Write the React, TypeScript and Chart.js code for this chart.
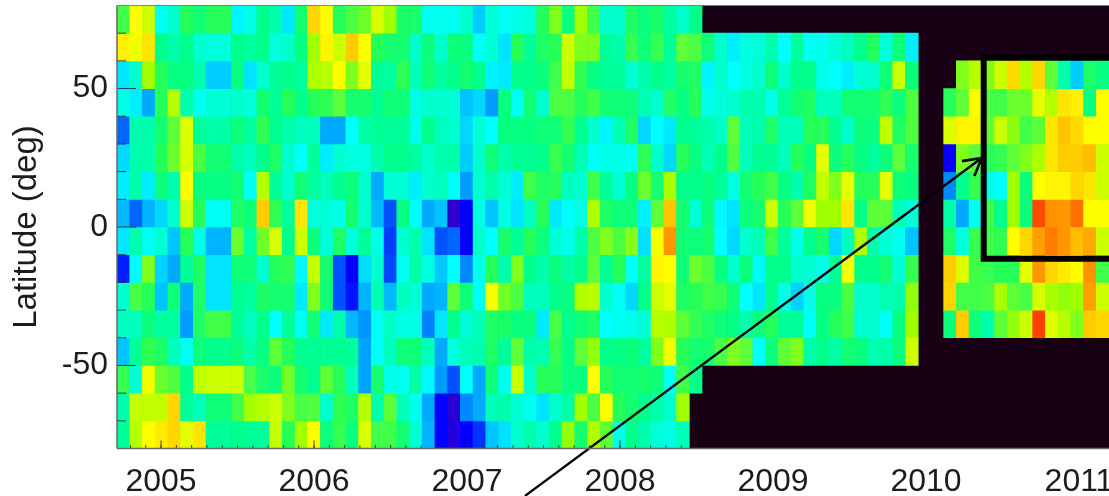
import React, { useEffect, useRef } from "react";
import { Chart, registerables } from "chart.js";

Chart.register(...registerables);

const gap = (n: number) => Array(n).fill(null);

const lat70 = [8.5,12,11,5.3,6,8,7.5,8,8,4.7,5.5,7,6.5,4.3,7.5,12.8,12,8,8.7,9.3,11.3,10,7.7,7.7,5.3, 5.3,5.3,6,3.7,5.8,5.2,5.4,5.7,8,9.5,7.2,10,8.5,6,6,7.8,7.3,7.7,6.7,6,7, ...gap(32)];
const lat60 = [12.3,11.7,12.5,7,6.5,7,6,5.7,5.7,7,6.7,7,5.7,6,7.2,10,12.2,11,13,12,8,7.6,7.6,6,7.3, 6,7.4,7.2,5.2,5.8,4.2,8,6.8,7.8,8,11,9.5,9.5,6.8,6.5,8.3,7.4,8.3,6.8,9,8.7,7.4,6,4.5,5.6,5.8,6.5, 5,6.7,5.3,5.3,5.8,6.2,7,8,5.7,7.4,4.5, ...gap(15)];
const lat50 = [4.2,6,10,8,7.2,7.2,6.5,3.7,3.7,7.2,4.2,6,6.8,7,6.7,10.3,10.5,12,9.5,11.5,6.8,6.7,8.2,6.3,7.4, 6.7,7,7.5,7,4.6,4.4,7,7,7.3,8.5,10.8,8.2,7.2,6.8,6.8,5.9,6.5,7,6.7,7.6,7.8,4.7,6,5,5.6,6, 7.4,6,7,7,5.5,5,4.5,5.8,6,7.4,11,7.4, ...gap(3), 9.5,10.5,9.5,11,12.7,10.5,12.8,9,6.5,3.7,7.8,7.2];
const lat40 = [5.5,4.5,3,8,10.5,6.5,5.3,5.8,5.8,6,5.7,7.5,6.8,8,7,8,8.2,9,7.6,7.6,6.9,7.4,7.4,5.6,6, 6,5.8,3.5,3.9,2.8,7.2,5.2,7.5,6,8.7,8.7,8,8.5,7.5,7.4,7.4,6.4,6,7.8,7.2,8,5.4,5.8,5.9,6.5,6.5, 5.5,6.8,7.5,7.8,6.2,6.2,7.5,7.5,7.5,8.2,7.3,8.7, ...gap(2), 8,9,12,8.7,8.5,9.2,9.2,11.5,10.5,12.5,12.3,7.2,12];
const lat30 = [2,6.5,6.5,7.5,9,11.3,6.8,6.6,6.6,7.4,6.7,8.2,7,6.5,6.2,6.2,3,3,5,6.6,6.8,6.8,6.8,5.4,7, 6.2,6,3.9,5.8,5,7.2,7.2,7.2,7.4,7.4,8.3,6.9,6,4.7,6.4,7.8,3.9,5,4.4,7,6.8,6.5,6.1,9,6.3,6.5, 7.8,6.3,6.3,8,8,6.9,6,7.3,7.2,10.7,7.8,8.8, ...gap(2), 11.3,12.2,12.2,9,11,9.7,8.5,9,12.5,13.2,12.7,12,12];
const lat20 = [3.9,6.5,6.5,8,9.2,11.2,8.7,7.5,7.5,6.5,6.2,7,7.8,6,5,6.8,4.5,6,5.6,5.6,6.5,7,7,6.7,6, 6.5,6.5,3.7,6,7.4,6.5,6.8,6.9,7,8.4,7.5,6.4,5.2,5.4,5.5,5.2,8.2,6,3.9,8,7.2,6.4,7,8.8,6.3,6.9, 6.8,6.3,8,7.2,11.5,7.3,8,7.2,6.7,7.3,9,7.6, ...gap(2), 0.9,9.5,9,8,8.3,9,9.5,10.3,12.5,13,13,13.3,11];
const lat10 = [4.5,6.5,4.5,7.3,6.5,12,7.2,7.2,7.2,7.5,5.2,10.5,6.8,6,7.5,6.7,6.3,6.9,7.4,6,3,5.8,5.8,4.5,6, 6.2,5.2,2.8,6,6.5,5.8,4.5,8.5,7.8,8,6.2,5.9,8.5,6.8,5.9,7.2,9.2,7.6,10.2,7,7,7.2,6.8,5.6,7.5,8, 8.5,7.2,6.5,7.8,10.7,9.5,11.5,8,8,11.5,7.4,7.2, ...gap(2), 2.5,7,8.3,5.5,5,10,7.3,12,12.2,12.2,12.8,12.5,11];
const lat0 = [3.3,2,3.2,3.9,6,11,8,5.2,5.2,7.8,7.4,13,8.2,6.8,12.5,5.7,5.8,5.5,7.5,6,3.3,1.8,7.2,5,3, 3.5,0.3,1,5.6,3.5,5.5,4.2,6.2,8,4.4,5.1,5.6,10.3,7.8,7.4,7.4,4.6,9,13.2,7.5,5.8,7.3,4.8,4.2,7.3,7.6, 11,8,9,11.6,10,10,12.5,7.1,9,9,6.3,5.8, ...gap(2), 6.6,3,5.3,8.5,7,10,7.3,15.8,14.3,14.2,15,12,12];
const latM10 = [4.3,6.5,5.3,5.9,3.5,8,5.5,3.2,3.2,9.2,6.7,9.3,11.2,7,11,7.3,5.8,7.8,5.7,6.8,5.5,1.6,5.9,6.5,4.2, 1.8,2,1,6,5,7.6,6.8,8,7.3,5.8,5.4,6.5,8.7,9.5,8.7,9.6,4.1,11.8,14.2,7.5,7.3,7.6,5,3.9,6,6.3, 8.5,6.8,5.5,7,7.6,3.9,6.2,10.3,6.5,5.8,5.3,3.5, ...gap(2), 7.8,5.7,8.3,8.5,8.2,12,12.8,14,14.7,14.2,13.3,13.8,11];
const latM20 = [1.3,4.9,9.5,3.8,3,6.8,7.8,4.2,4.2,7.4,7.4,6,8,8.2,4.8,10.8,7.6,1.8,1,4,6,1.7,5.3,6.6,5.6, 3.6,5,2.5,5.4,8,6.5,9.5,7,6.5,7.3,6.6,7,9,6.8,8,5.2,6.7,12.2,12,7.4,9.2,8.7,7.2,6,7.3,4.8, 7,7,6,5.9,5.5,6.8,11.8,7,7,7.5,5.8,8.3, ...gap(2), 13,11.3,8.5,8.3,8,8,11.5,14.2,12.8,12.4,12,14.3,8.5];
const latM30 = [5.9,8.6,8,3.5,7.4,3,7.8,4.2,4.2,6.9,6.7,7.8,7.6,7.6,4.4,9.5,7.4,1.8,1.2,3.2,6.4,3.3,6.2,5.8,3, 3.2,9,7.4,5.2,11.8,9.3,8.7,6.2,6.2,7,7.2,10.3,10.6,5.9,5.2,3.9,7,11,11.5,7.8,8,8.5,8.3,7.4,5,4.3, 7,5.5,3.8,5.5,7.2,7.2,8.7,6,6,6.4,6.5,9.8, ...gap(2), 12.8,8.5,8.5,8.7,10.2,9,8.6,11.2,10.2,9.8,10,14,11];
const latM40 = [6.2,6.2,7.3,6.7,6.7,2.8,7.8,8.5,8.5,6.8,6.2,7,5,6.8,5.3,7.5,4.4,6.5,3.3,2.7,5.3,6.1,5.5,5.5,2.4, 4.3,7,5.8,6.3,7.8,7.7,7.2,7.3,4.4,8.6,7,7.4,7.8,5,5.3,5.4,5.8,10.5,10.3,9,8.3,7.8,7.4,7.1,6.5,7.3, 8,6.8,6.8,5.2,7.2,8,8.5,5.8,6,5.2,7.2,10, ...gap(2), 7.3,13,7.4,6.5,9,9.8,11,16,11.3,10.5,9.5,13,12.8];
const latM50 = [3.5,6.8,8.2,7.8,6.2,5.3,7.4,7,7,7.3,6.6,7.2,9,8,6.9,6.9,6.9,6.9,6.8,2.9,5.2,6.2,7.4,7.4,6.3, 3,5.7,6.3,6.5,7.8,6.8,9,6.5,6.4,8.3,7.1,9,9.8,7,7.1,7.3,6.7,9.5,11.7,8,7.5,7.6,8.6,9.5,9,5, 7.3,9,9.5,6.6,7,6.6,7.5,7.3,6.4,6.5,7.3,11, ...gap(15)];
const latM60 = [8.3,5.8,11.7,9.2,8.8,7,10.7,11,11,11,8.6,7.7,7.3,9.3,7.5,7,9,8,6.3,2.9,7.6,5.5,5.3,6.6,4.8, 2.8,1.8,5,3,7.4,5.3,11,6,8,8,7.2,7.2,12,8,7.5,7.5,7.6,7.4,5.2,8.5,7, ...gap(32)];
const latM70 = [6.5,10.8,10.8,10.8,12.8,6.8,6.3,7.4,7.4,8.5,10,10.5,11,9.5,8.6,8.8,6,8.2,7.8,10.5,6.5,9,6.3,5.3,3, 1,0.4,2.5,3,6.3,6.5,5.8,5.3,4.2,6,6.6,10,8.7,11.9,8,7.5,7,6.5,6,10, ...gap(33)];
const latM80 = [6.8,10.5,12,12.4,12.8,11.5,12.5,6.8,6.8,7,6.8,6.8,10.8,8,10,12,7.3,8.3,7.3,11.3,8.5,8.5,7.5,5.8,3.2, 1,0.5,1,1.5,3.5,4.1,6,6.5,6,7,9.8,7.6,10.3,9,5.5,7,6.5,5.8,5.5,6.3, ...gap(33)];

const rows: [number, (number | null)[]][] = [
  [70, lat70], [60, lat60], [50, lat50], [40, lat40], [30, lat30], [20, lat20], [10, lat10], [0, lat0],
  [-10, latM10], [-20, latM20], [-30, latM30], [-40, latM40], [-50, latM50], [-60, latM60], [-70, latM70], [-80, latM80],
];
const columns = lat70.map((_, i) => String(i));

const palette = ["#4400bb","#0000ff","#0066ff","#00aaff","#00ddff","#00ffff","#00ffcc","#00ff8c","#24ff5a","#5cff38","#a0ff00","#ccff00","#ffff00","#ffcc00","#ffa000","#ff7000","#ff4000"];
const noData = "#170014";

const yearTicks = [2005, 2006, 2007, 2008, 2009, 2010, 2011];
const latTicks = [-50, 0, 50];
const latMinorTicks = [-70, -60, -40, -30, -20, -10, 10, 20, 30, 40, 60, 70];
const yearMin = 2004.712;
const yearMax = 2011.196;

const boxOutline = [{ x: 2011.6, y: 61.2 }, { x: 2010.377, y: 61.2 }, { x: 2010.377, y: -11.5 }, { x: 2011.6, y: -11.5 }];
const arrowShaft = [{ x: 2007.379, y: -97.1 }, { x: 2010.364, y: 24.9 }];
const arrowHead = [{ x: 2010.235, y: 23.8 }, { x: 2010.364, y: 24.9 }, { x: 2010.316, y: 18.4 }];

function colorOf(v: number | null) {
  if (v == null) return noData;
  const i = Math.min(Math.floor(v), palette.length - 2);
  const t = v - i;
  const parse = (h: string) => [1, 3, 5].map((p) => parseInt(h.slice(p, p + 2), 16));
  const a = parse(palette[i]);
  const b = parse(palette[i + 1]);
  const c = a.map((x, j) => Math.round(x + (b[j] - x) * t));
  return `rgb(${c[0]},${c[1]},${c[2]})`;
}

const framePlugin = {
  id: "frame",
  beforeDatasetsDraw(chart: any) {
    const { ctx, chartArea: a } = chart;
    ctx.save();
    ctx.fillStyle = noData;
    ctx.fillRect(a.left, a.top, a.right - a.left, a.bottom - a.top);
    ctx.restore();
  },
  afterDatasetsDraw(chart: any) {
    const { ctx, chartArea: a, scales } = chart;
    ctx.save();
    ctx.strokeStyle = "rgba(40,40,45,0.85)";
    ctx.lineWidth = 1;
    const line = (x1: number, y1: number, x2: number, y2: number) => {
      ctx.beginPath();
      ctx.moveTo(x1, y1);
      ctx.lineTo(x2, y2);
      ctx.stroke();
    };
    latMinorTicks.forEach((v) => { const y = scales.y.getPixelForValue(v); line(a.left, y, a.left + 9, y); });
    latTicks.forEach((v) => { const y = scales.y.getPixelForValue(v); line(a.left, y, a.left + 19, y); });
    for (let i = 0; i < 64; i++) {
      const v = 2004.8 + i * 0.1;
      const x = scales.xYear.getPixelForValue(v);
      if (x < 689) line(x, a.bottom, x, a.bottom - 3.5);
    }
    yearTicks.forEach((v) => { const x = scales.xYear.getPixelForValue(v); if (x < 689) line(x, a.bottom, x, a.bottom - 8); });
    ctx.strokeStyle = "#68686e";
    ctx.lineWidth = 1.5;
    line(a.left, a.top, a.left, a.bottom);
    line(a.left, a.bottom, a.right, a.bottom);
    ctx.strokeStyle = "rgba(120,115,130,0.7)";
    ctx.lineWidth = 1;
    line(a.left, a.top, a.right, a.top);
    ctx.restore();
  },
};

export default function App() {
  const ref = useRef<HTMLCanvasElement>(null);
  useEffect(() => {
    const barSets: any[] = rows.map(([lat, vals]) => ({
      type: "bar",
      label: `${lat}`,
      xAxisID: "x",
      yAxisID: "y",
      order: 2,
      data: vals.map((v) => (v == null ? null : [lat, lat + 10])),
      backgroundColor: vals.map(colorOf),
      borderWidth: 0,
      categoryPercentage: 1,
      barPercentage: 1,
      grouped: false,
    }));
    const lineSet = (label: string, data: any[], width: number, join: string) => ({
      type: "line",
      label,
      xAxisID: "xYear",
      yAxisID: "y",
      order: 1,
      data,
      borderColor: "#000000",
      borderWidth: width,
      pointRadius: 0,
      tension: 0,
      fill: false,
      clip: false,
      borderJoinStyle: join,
      borderCapStyle: "butt",
    });
    const chart = new Chart(ref.current as HTMLCanvasElement, {
      type: "bar",
      data: {
        labels: columns,
        datasets: [
          ...barSets,
          lineSet("box", boxOutline, 6, "miter"),
          lineSet("arrow", arrowShaft, 2.4, "miter"),
          lineSet("head", arrowHead, 2.6, "round"),
        ],
      } as any,
      plugins: [framePlugin],
      options: {
        animation: false,
        responsive: false,
        devicePixelRatio: 1,
        layout: { padding: { top: 5.5, right: 0, left: 0, bottom: 0 } },
        plugins: { legend: { display: false }, tooltip: { enabled: false }, title: { display: false } },
        scales: {
          x: { type: "category", display: false, offset: true },
          xYear: {
            type: "linear",
            position: "bottom",
            offset: false,
            min: yearMin,
            max: yearMax,
            grid: { display: false, offset: false },
            border: { display: false },
            afterBuildTicks(s: any) { s.ticks = yearTicks.map((value) => ({ value })); },
            afterFit(s: any) { s.height = 47.5; s.paddingLeft = 0; s.paddingRight = 0; },
            ticks: {
              autoSkip: false,
              maxRotation: 0,
              padding: 6,
              color: "#1c1c1c",
              font: { family: "'Liberation Sans'", size: 32 },
              callback: (v: any) => String(v),
            },
          },
          y: {
            type: "linear",
            position: "left",
            min: -80,
            max: 80,
            grid: { display: false },
            border: { display: false },
            afterBuildTicks(s: any) { s.ticks = latTicks.map((value) => ({ value })); },
            afterFit(s: any) { s.width = 117; s.paddingTop = 0; s.paddingBottom = 0; },
            ticks: {
              autoSkip: false,
              padding: 1,
              color: "#1c1c1c",
              font: { family: "'Liberation Sans'", size: 32 },
              callback: (v: any) => String(v),
            },
            title: {
              display: true,
              text: "Latitude (deg)",
              color: "#1c1c1c",
              font: { family: "'Liberation Sans'", size: 33 },
              padding: { top: 7, bottom: 0 },
            },
          },
        },
      } as any,
    });
    return () => chart.destroy();
  }, []);
  return (
    <div style={{ position: "absolute", left: 0, top: 0, width: 1109, height: 496, background: "#fff", overflow: "hidden" }}>
      <canvas ref={ref} width={1109} height={496} style={{ display: "block", filter: "blur(0.4px)" }} />
    </div>
  );
}
